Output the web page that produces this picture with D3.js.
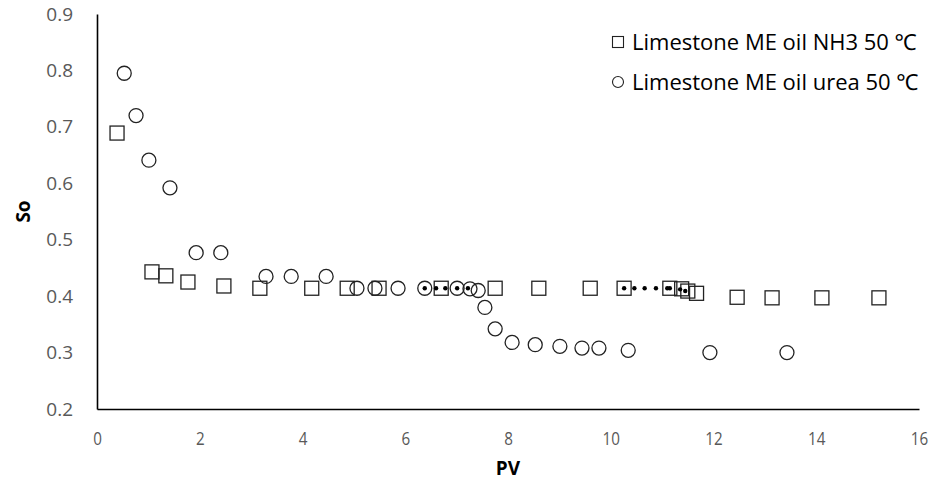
<!DOCTYPE html>
<html>
<head>
<meta charset="utf-8">
<script src="https://cdn.jsdelivr.net/npm/d3@7"></script>
<style>
    body { margin: 0; background: #fff; }
    svg { display: block; font-family: "Open Sans", "Noto Sans", sans-serif; }
</style>
</head>
<body>
<div id="chart"></div>
<script>
// NH3 series (squares)
const nh3PV = [0.39, 1.07, 1.34, 1.77, 2.47, 3.17, 4.18, 4.87, 5.49, 6.70, 7.75, 8.60, 9.60, 10.26, 11.15, 11.38, 11.50, 11.67, 12.46, 13.14, 14.11, 15.22];
const nh3So = [0.689, 0.443, 0.436, 0.425, 0.418, 0.414, 0.414, 0.414, 0.414, 0.414, 0.414, 0.414, 0.414, 0.414, 0.414, 0.413, 0.409, 0.405, 0.398, 0.397, 0.397, 0.397];

// urea series (circles)
const ureaPV = [0.53, 0.76, 1.01, 1.42, 1.93, 2.41, 3.29, 3.78, 4.46, 5.06, 5.41, 5.86, 6.38, 7.01, 7.26, 7.42, 7.55, 7.75, 8.08, 8.53, 9.01, 9.44, 9.77, 10.34, 11.93, 13.43];
const ureaSo = [0.795, 0.720, 0.641, 0.592, 0.477, 0.477, 0.435, 0.435, 0.435, 0.414, 0.414, 0.414, 0.414, 0.414, 0.413, 0.410, 0.380, 0.342, 0.318, 0.314, 0.311, 0.308, 0.308, 0.304, 0.300, 0.300];

// small filled dots
const dotPV = [6.38, 6.60, 6.78, 7.01, 7.22, 10.26, 10.46, 10.66, 10.88, 11.10, 11.15, 11.35, 11.45];
const dotSo = [0.414, 0.414, 0.414, 0.414, 0.414, 0.414, 0.414, 0.414, 0.414, 0.414, 0.414, 0.412, 0.409];

const xTicks = [0, 2, 4, 6, 8, 10, 12, 14, 16];
const yTicks = [0.2, 0.3, 0.4, 0.5, 0.6, 0.7, 0.8, 0.9];
const legendNames = ['Limestone ME oil NH3 50 \u2103', 'Limestone ME oil urea 50 \u2103'];

const W = 941, H = 494;
const m = {left: 97, right: 22, top: 14, bottom: 85};

let svg = d3.select('#chart').append('svg').attr('width', W).attr('height', H);

let x = d3.scaleLinear().domain([0, 16]).range([m.left, W - m.right]);
let y = d3.scaleLinear().domain([0.2, 0.9]).range([H - m.bottom, m.top]);

// axes
let xAxis = svg.append('g')
    .attr('transform', 'translate(0,' + (H - m.bottom) + ')')
    .call(d3.axisBottom(x).tickValues(xTicks).tickSize(0).tickPadding(23).tickFormat(d3.format('d')));
let yAxis = svg.append('g')
    .attr('transform', 'translate(' + m.left + ',0)')
    .call(d3.axisLeft(y).tickValues(yTicks).tickSize(0).tickPadding(24).tickFormat(d3.format('.1f')));

[xAxis, yAxis].forEach(function (a) {
    a.select('.domain').attr('stroke', '#000').attr('stroke-width', 1.6);
    a.selectAll('text').attr('fill', '#595959').attr('font-size', 19)
        .attr('font-family', '"Open Sans", sans-serif');
});
// x labels look condensed in the original
xAxis.selectAll('text').attr('transform', 'scale(0.8,1)');

// axis titles
svg.append('text').attr('x', (m.left + W - m.right) / 2).attr('y', 475)
    .attr('text-anchor', 'middle').attr('font-weight', 'bold').attr('font-size', 19)
    .text('PV');
svg.append('text')
    .attr('transform', 'translate(30,' + ((m.top + H - m.bottom) / 2) + ') rotate(-90)')
    .attr('text-anchor', 'middle').attr('font-weight', 'bold').attr('font-size', 19)
    .text('So');

let nh3 = nh3PV.map((v, i) => ({pv: v, so: nh3So[i]}));
let urea = ureaPV.map((v, i) => ({pv: v, so: ureaSo[i]}));
let dots = dotPV.map((v, i) => ({pv: v, so: dotSo[i]}));

svg.append('g').selectAll('rect').data(nh3).join('rect')
    .attr('x', d => x(d.pv) - 7).attr('y', d => y(d.so) - 7)
    .attr('width', 14).attr('height', 14)
    .attr('fill', 'none').attr('stroke', '#222').attr('stroke-width', 1.3);

svg.append('g').selectAll('circle').data(urea).join('circle')
    .attr('cx', d => x(d.pv)).attr('cy', d => y(d.so)).attr('r', 7)
    .attr('fill', 'none').attr('stroke', '#222').attr('stroke-width', 1.3);

svg.append('g').selectAll('circle').data(dots).join('circle')
    .attr('cx', d => x(d.pv)).attr('cy', d => y(d.so)).attr('r', 2.2)
    .attr('fill', '#000');

// legend
let lg = svg.append('g').attr('transform', 'translate(618,42)');
lg.append('rect').attr('x', -5.5).attr('y', -5.5).attr('width', 11).attr('height', 11)
    .attr('fill', 'none').attr('stroke', '#222').attr('stroke-width', 1.1);
lg.append('circle').attr('cx', 0).attr('cy', 40).attr('r', 5.5)
    .attr('fill', 'none').attr('stroke', '#222').attr('stroke-width', 1.1);
lg.selectAll('text').data(legendNames).join('text')
    .attr('x', 14).attr('y', (d, i) => i * 40).attr('dy', '0.35em')
    .attr('font-size', 22).attr('fill', '#000')
    .text(d => d);
</script>
</body>
</html>
